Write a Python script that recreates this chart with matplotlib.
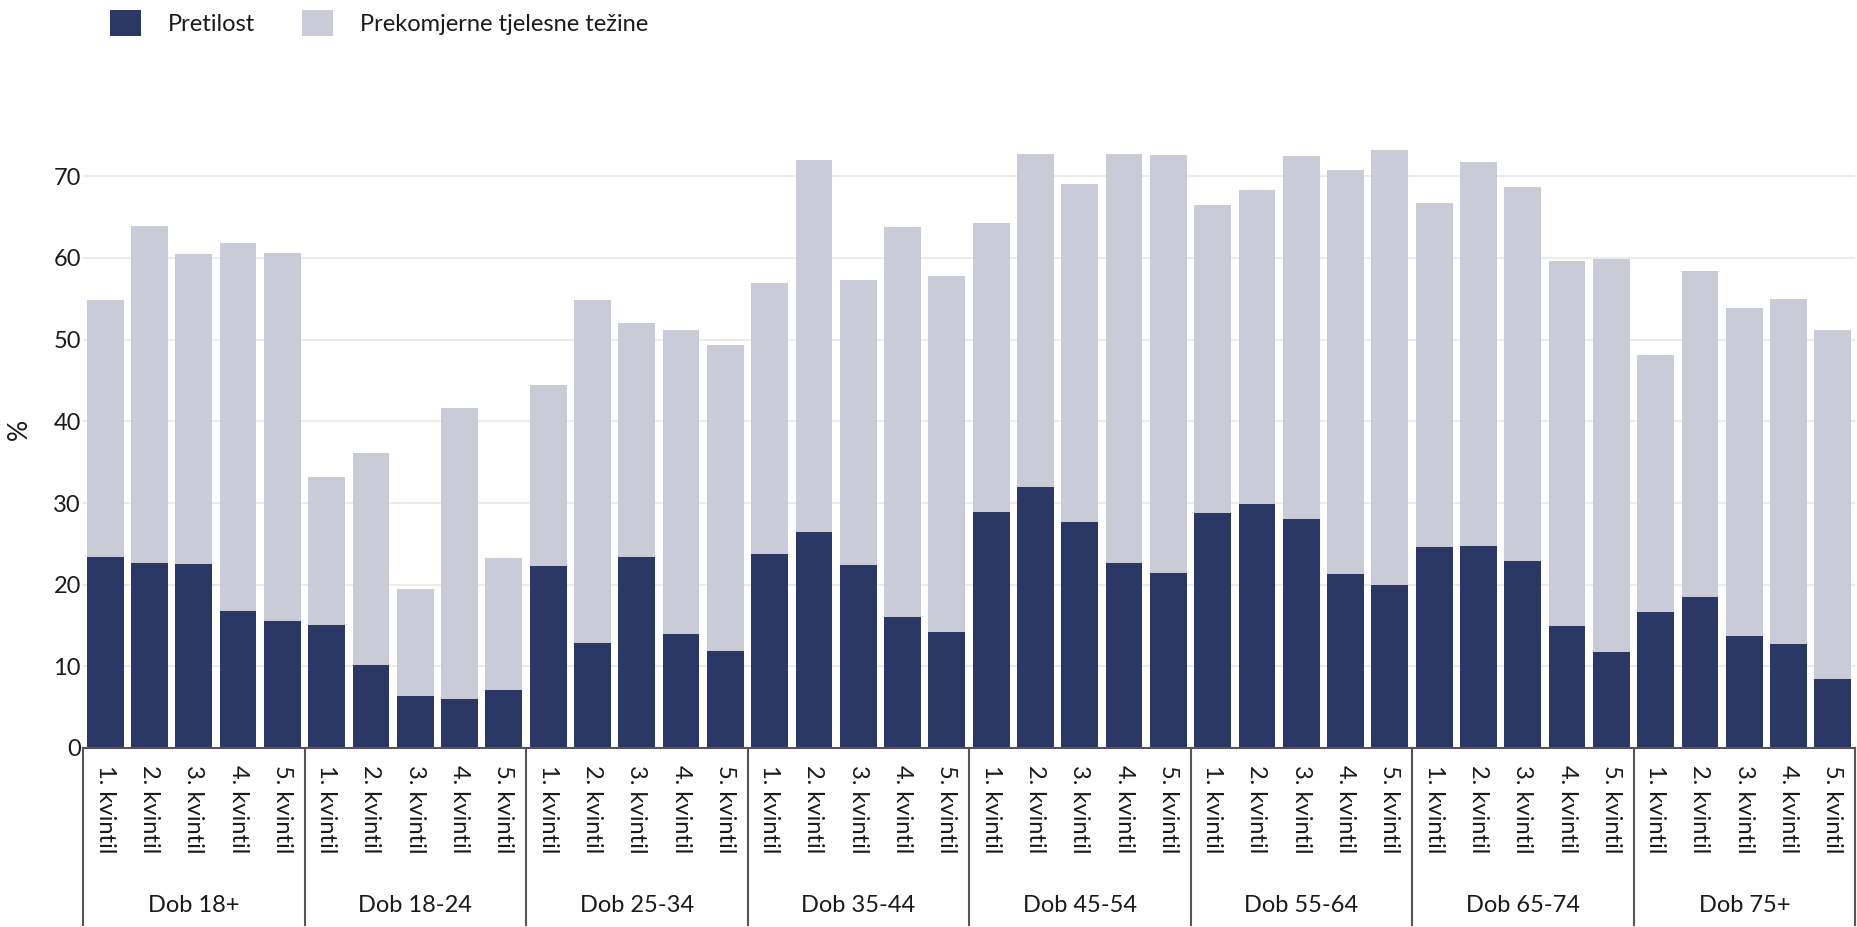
import numpy as np
import matplotlib
matplotlib.use("Agg")
import matplotlib.pyplot as plt
import matplotlib.transforms as mtransforms
from matplotlib.patches import Patch

plt.rcParams["font.family"] = ["Lato", "DejaVu Sans"]

groups = ["Dob 18+", "Dob 18-24", "Dob 25-34", "Dob 35-44",
          "Dob 45-54", "Dob 55-64", "Dob 65-74", "Dob 75+"]
quintiles = ["1. kvintil", "2. kvintil", "3. kvintil", "4. kvintil", "5. kvintil"]

# Pretilost (obese), per group, quintiles 1-5
pretilost = [
    [23.4, 22.6, 22.5, 16.8, 15.6],
    [15.1, 10.2, 6.4, 6.0, 7.1],
    [22.3, 12.9, 23.4, 14.0, 11.9],
    [23.8, 26.4, 22.4, 16.1, 14.2],
    [28.9, 32.0, 27.7, 22.6, 21.4],
    [28.8, 29.9, 28.1, 21.3, 19.9],
    [24.6, 24.7, 22.9, 14.9, 11.8],
    [16.6, 18.5, 13.7, 12.7, 8.5],
]

# Prekomjerne tjelesne tezine (overweight), stacked on top
prekomjerne = [
    [31.5, 41.3, 38.0, 45.0, 45.0],
    [18.1, 25.9, 13.1, 35.6, 16.2],
    [22.2, 42.0, 28.6, 37.2, 37.4],
    [33.2, 45.6, 34.9, 47.7, 43.6],
    [35.4, 40.7, 41.4, 50.1, 51.2],
    [37.7, 38.4, 44.4, 49.5, 53.3],
    [42.1, 47.1, 45.8, 44.7, 48.1],
    [31.5, 39.9, 40.2, 42.3, 42.7],
]

dark = "#2b3764"
light = "#c9cbd7"
txt = "#1a1a1a"

obese = np.array(pretilost).ravel()
over = np.array(prekomjerne).ravel()
x = np.arange(len(obese))
labels = quintiles * len(groups)

fig = plt.figure(figsize=(18.57, 9.27), dpi=100)
ax = fig.add_axes([83 / 1857, 1 - 748 / 927, 1772 / 1857, 637 / 927])

ax.bar(x, obese, width=0.83, color=dark, zorder=3)
ax.bar(x, over, bottom=obese, width=0.83, color=light, zorder=3)

ax.set_xlim(-0.5, len(x) - 0.5)
ax.set_ylim(0, 78)
ax.set_yticks(range(0, 80, 10))
ax.grid(axis="y", color="#ececec", linewidth=1.5, zorder=0)
ax.set_axisbelow(True)

for side in ["top", "right", "left"]:
    ax.spines[side].set_visible(False)
ax.spines["bottom"].set_color("#555555")
ax.spines["bottom"].set_linewidth(1.5)
ax.spines["bottom"].set_zorder(4)

ax.set_xticks(x)
ax.set_xticklabels(labels, rotation=270, ha="center", va="top",
                   fontsize=17, color=txt)
ax.tick_params(axis="x", length=0, pad=12)
ax.tick_params(axis="y", length=0, pad=1.5, labelsize=17, labelcolor=txt)
ax.set_ylabel("%", fontsize=19, color=txt)
ax.yaxis.set_label_coords(-51 / 1772, 0.5)

# group separators and group labels below the axis
trans = mtransforms.blended_transform_factory(ax.transData, fig.transFigure)
axis_y = 1 - 748 / 927
for k in range(len(groups) + 1):
    xs = k * 5 - 0.5
    ax.plot([xs, xs], [axis_y, 0.002], transform=trans, color="#555555",
            linewidth=1.5, clip_on=False)
for k, g in enumerate(groups):
    ax.text(k * 5 + 2, 1 - 906 / 927, g, transform=trans, ha="center",
            va="center", fontsize=17, color=txt)

legend_items = [(dark, "Pretilost", 110), (light, "Prekomjerne tjelesne težine", 302)]
for color, name, left in legend_items:
    fig.legend(handles=[Patch(facecolor=color, label=name)], loc="upper left",
               bbox_to_anchor=(left / 1857, 1 - 10 / 927), frameon=False,
               fontsize=17, labelcolor=txt, borderpad=0, borderaxespad=0,
               handlelength=1.31, handleheight=1.31, handletextpad=1.14)

fig.savefig("out.png", dpi=100)
